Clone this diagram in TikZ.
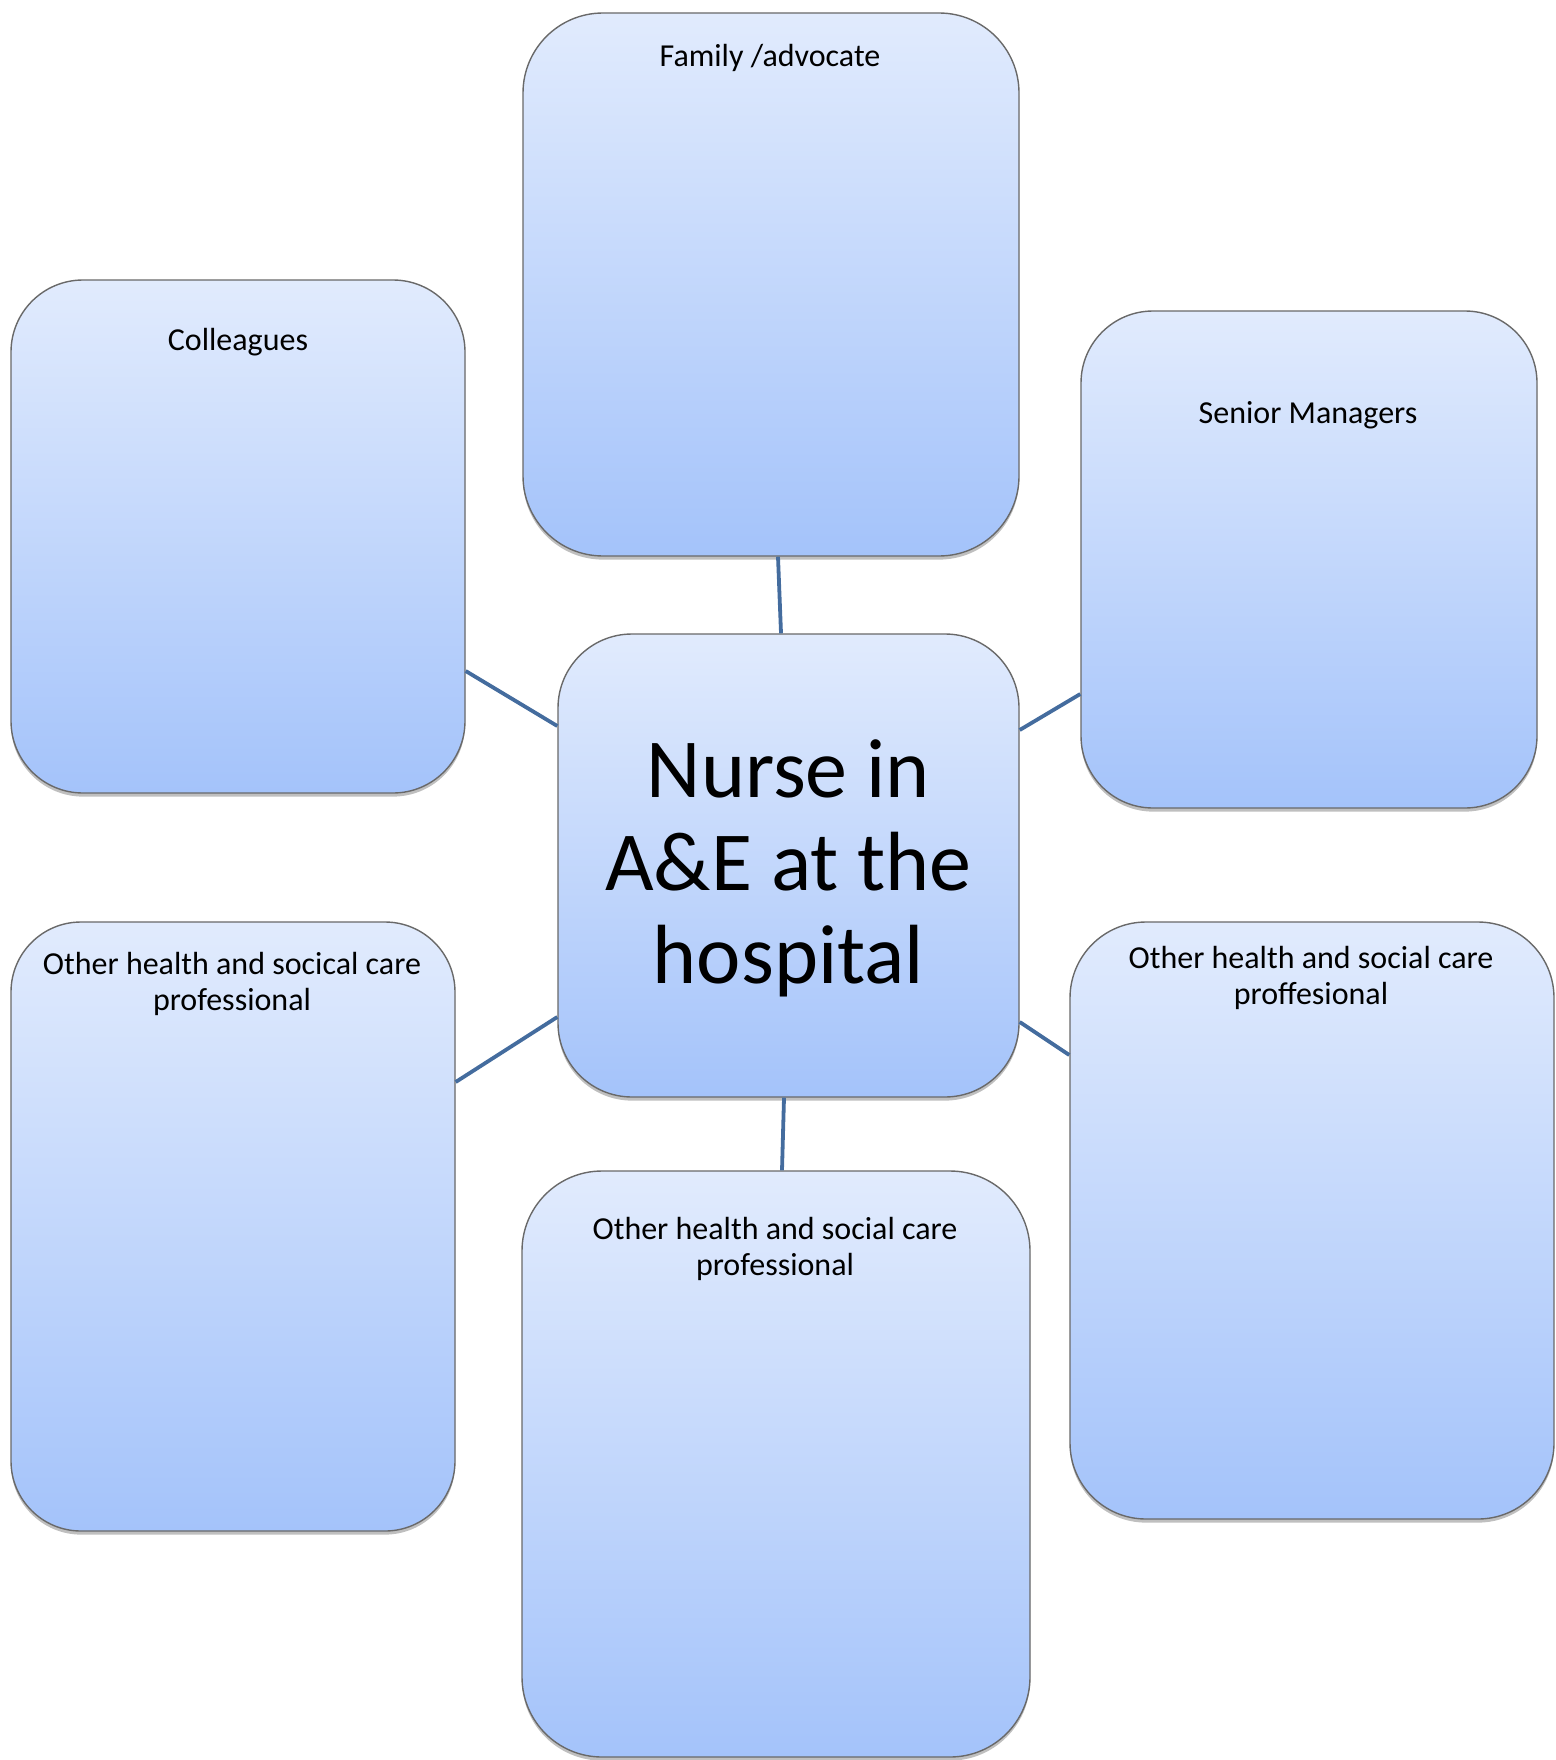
\documentclass[tikz,border=0pt]{standalone}
\usepackage{fontspec}
\setmainfont{Carlito}
\usetikzlibrary{shadows,calc}
\definecolor{gtop}{RGB}{225,235,253}
\definecolor{gbot}{RGB}{164,195,250}
\definecolor{edgegray}{RGB}{105,105,105}
\definecolor{linkblue}{RGB}{68,108,158}
\tikzset{
  card/.style={rectangle, draw=edgegray, line width=0.7pt, top color=gtop, bottom color=gbot,
    inner sep=0pt, drop shadow={shadow xshift=0pt, shadow yshift=-1.8pt, opacity=0.25, fill=black}},
  lbl/.style={align=center, font=\fontsize{16}{18}\selectfont, inner sep=0pt},
  biglbl/.style={align=center, font=\fontsize{42}{46.5}\selectfont, inner sep=0pt},
  link/.style={draw=linkblue, line width=1.9pt}
}
\begin{document}
\begin{tikzpicture}[x=0.5pt,y=-0.5pt]
\useasboundingbox (0,0) rectangle (1555,1760);
% boxes (centres in px; sizes in pt = px/2)
\node[card, minimum width=248pt, minimum height=271.5pt, rounded corners=40pt] (fam) at (771,284.5) {};
\node[card, minimum width=227pt, minimum height=256.5pt, rounded corners=36pt] (col) at (238,536.5) {};
\node[card, minimum width=228pt, minimum height=248.5pt, rounded corners=36pt] (sen) at (1309,559.5) {};
\node[card, minimum width=222pt, minimum height=304.5pt, rounded corners=35pt] (obl) at (233,1226.5) {};
\node[card, minimum width=254pt, minimum height=293pt, rounded corners=40pt] (obm) at (776,1464) {};
\node[card, minimum width=242pt, minimum height=298.5pt, rounded corners=38pt] (obr) at (1312,1220.5) {};
\node[card, minimum width=230.5pt, minimum height=231.5pt, rounded corners=37pt] (nur) at (788.5,865.5) {};
% labels
\node[biglbl] (nurt) at (788.5,868) {Nurse in\\A\&E at the\\hospital};
\node[lbl] (famt) at (770,58) {Family /advocate};
\node[lbl] (colt) at (238,342) {Colleagues};
\node[lbl] (sent) at (1308,415) {Senior Managers};
\node[lbl] (oblt) at (232,983.5) {Other health and socical care\\professional};
\node[lbl] (obmt) at (775,1249) {Other health and social care\\professional};
\node[lbl] (obrt) at (1311,977.5) {Other health and social care\\proffesional};
% connectors
\draw[link] ([xshift=3.5pt]fam.south) -- ([xshift=-3.75pt]nur.north);
\draw[link] ([yshift=-67.25pt]col.east) -- ([yshift=69.75pt]nur.west);
\draw[link] ([yshift=-67.25pt]sen.west) -- ([yshift=67.75pt]nur.east);
\draw[link] ([yshift=72.25pt]obl.east) -- ([yshift=-75.75pt]nur.west);
\draw[link] ([yshift=82.75pt]obr.west) -- ([yshift=-78.25pt]nur.east);
\draw[link] ([xshift=3pt]obm.north) -- ([xshift=-2.25pt]nur.south);
\end{tikzpicture}
\end{document}
